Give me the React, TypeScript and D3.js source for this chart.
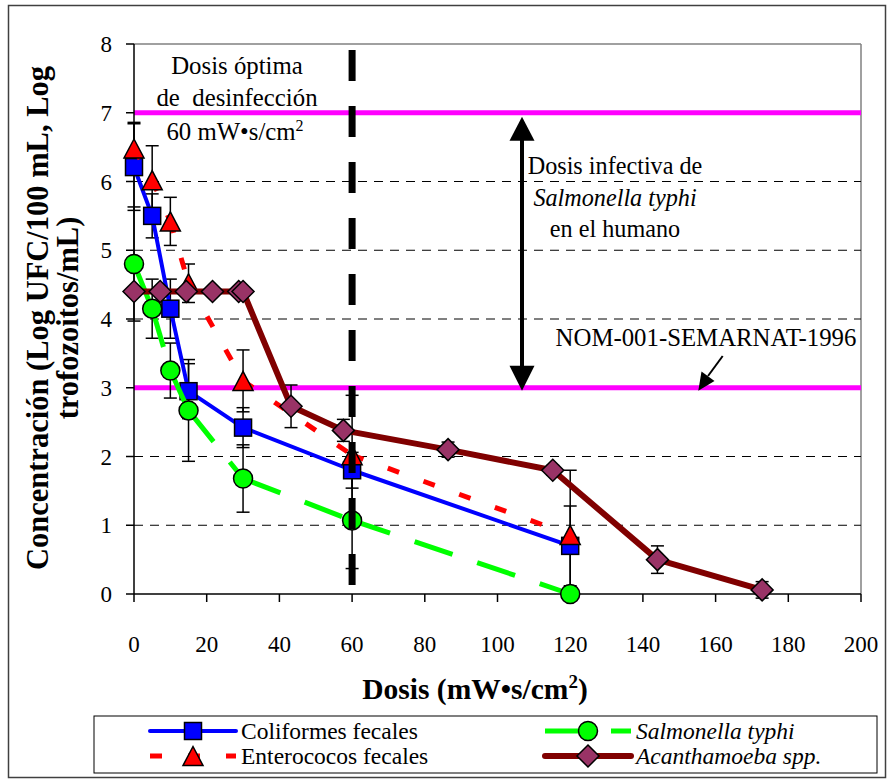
import React from 'react';
import * as d3 from 'd3';

const xTicks = [0, 20, 40, 60, 80, 100, 120, 140, 160, 180, 200];
const yTicks = [0, 1, 2, 3, 4, 5, 6, 7, 8];
const gridValues = [1, 2, 3, 4, 5, 6, 7];
const limitValues = [7, 3];
const optimalDose = 60;

const coliX = [0, 5, 10, 15, 30, 60, 120];
const coliY = [6.21, 5.5, 4.15, 2.95, 2.42, 1.8, 0.7];
const coliErr = [0.63, 0.32, 0.43, 0.4, 0.29, 0.26, 0.58];

const salmX = [0, 5, 10, 15, 30, 60, 120];
const salmY = [4.8, 4.15, 3.25, 2.67, 1.68, 1.07, 0];
const salmErr = [0.83, 0.43, 0.4, 0.74, 0.49, 0.7, 0];

const enteX = [0, 5, 10, 15, 30, 60, 120];
const enteY = [6.48, 6.02, 5.42, 4.52, 3.1, 2.02, 0.86];
const enteErr = [0.38, 0.5, 0.35, 0.28, 0.45, 0.87, 0.94];

const acanX = [0, 7.2, 14.4, 21.6, 28.8, 30, 43.2, 57.6, 86.4, 115.2, 144, 172.8];
const acanY = [4.4, 4.4, 4.4, 4.4, 4.4, 4.4, 2.73, 2.38, 2.1, 1.8, 0.5, 0.06];
const acanErr = [0.05, 0.05, 0.05, 0.05, 0.05, 0.05, 0.31, 0.16, 0.11, 0.07, 0.2, 0.12];

const FONT = '"Liberation Serif", "Times New Roman", serif';

type Series = {
  name: string;
  italic: boolean;
  xs: number[];
  ys: number[];
  err: number[];
  color: string;
  width: number;
  dash: string | null;
  marker: 'square' | 'circle' | 'triangle' | 'diamond';
  fill: string;
};

const series: Series[] = [
  { name: 'Coliformes fecales', italic: false, xs: coliX, ys: coliY, err: coliErr, color: '#0000FF', width: 4, dash: null, marker: 'square', fill: '#0000FF' },
  { name: 'Salmonella typhi', italic: true, xs: salmX, ys: salmY, err: salmErr, color: '#00FF00', width: 5, dash: '40 26', marker: 'circle', fill: '#00FF00' },
  { name: 'Enterococos fecales', italic: false, xs: enteX, ys: enteY, err: enteErr, color: '#FF0000', width: 5, dash: '12 26', marker: 'triangle', fill: '#FF0000' },
  { name: 'Acanthamoeba spp.', italic: true, xs: acanX, ys: acanY, err: acanErr, color: '#800000', width: 6, dash: null, marker: 'diamond', fill: '#993366' },
];

function Marker({ type, cx, cy, fill }: { type: string; cx: number; cy: number; fill: string }) {
  const st = { fill, stroke: '#000', strokeWidth: 1.5 };
  if (type === 'square') return <rect x={cx - 8.5} y={cy - 8.5} width={17} height={17} {...st} />;
  if (type === 'circle') return <circle cx={cx} cy={cy} r={9.5} {...st} />;
  if (type === 'triangle')
    return <path d={`M${cx},${cy - 9.5}L${cx + 10},${cy + 9.5}L${cx - 10},${cy + 9.5}Z`} {...st} />;
  return <path d={`M${cx},${cy - 11}L${cx + 11},${cy}L${cx},${cy + 11}L${cx - 11},${cy}Z`} {...st} />;
}

export default function App() {
  const x = d3.scaleLinear().domain([0, 200]).range([134, 861]);
  const y = d3.scaleLinear().domain([0, 8]).range([594, 44]);
  const line = d3.line<[number, number]>().x((d) => x(d[0])).y((d) => y(d[1]));

  const segs = (s: Series) => {
    const pts: [number, number][] = s.xs.map((v, i) => [v, s.ys[i]]);
    if (!s.dash) return [line(pts) as string];
    const out: string[] = [];
    for (let i = 0; i < pts.length - 1; i++) out.push(line([pts[i], pts[i + 1]]) as string);
    return out;
  };

  const legendItems = [
    { s: series[0], lx: 150, ly: 731 },
    { s: series[1], lx: 545, ly: 731 },
    { s: series[2], lx: 150, ly: 756 },
    { s: series[3], lx: 545, ly: 756 },
  ];

  const arrowX = 522;
  const yTop = y(7);
  const yBot = y(3);

  return (
    <svg width={888} height={780} style={{ position: 'absolute', left: 0, top: 0, background: '#fff' }} fontFamily={FONT}>
      <rect x={8.5} y={5.5} width={877} height={772} fill="#fff" stroke="#404040" strokeWidth={1.5} />
      {/* plot frame */}
      <line x1={x(0)} x2={x(200)} y1={y(8)} y2={y(8)} stroke="#808080" strokeWidth={1.5} />
      <line x1={x(200)} x2={x(200)} y1={y(8)} y2={y(0)} stroke="#808080" strokeWidth={1.5} />
      {gridValues.map((g) => (
        <line key={g} x1={x(0)} x2={x(200)} y1={y(g)} y2={y(g)} stroke="#000" strokeWidth={1} strokeDasharray="9 7" />
      ))}
      {limitValues.map((g) => (
        <line key={'m' + g} x1={x(0)} x2={x(200)} y1={y(g)} y2={y(g)} stroke="#FF00FF" strokeWidth={5} />
      ))}
      {/* axes */}
      <line x1={x(0)} x2={x(0)} y1={y(0)} y2={y(8)} stroke="#000" strokeWidth={1.5} />
      <line x1={x(0)} x2={x(200)} y1={y(0)} y2={y(0)} stroke="#000" strokeWidth={1.5} />
      {yTicks.map((t) => (
        <g key={'yt' + t}>
          <line x1={x(0) - 8} x2={x(0)} y1={y(t)} y2={y(t)} stroke="#000" strokeWidth={1.5} />
          <text x={112} y={y(t) + 8} textAnchor="end" fontSize={23}>{t}</text>
        </g>
      ))}
      {xTicks.map((t) => (
        <g key={'xt' + t}>
          <line x1={x(t)} x2={x(t)} y1={y(0)} y2={y(0) + 8} stroke="#000" strokeWidth={1.5} />
          <text x={x(t)} y={652} textAnchor="middle" fontSize={23}>{t}</text>
        </g>
      ))}
      {/* error bars */}
      {series.map((s) =>
        s.xs.map((v, i) =>
          s.err[i] > 0 ? (
            <g key={s.name + 'e' + i} stroke="#000" strokeWidth={1.5}>
              <line x1={x(v)} x2={x(v)} y1={y(s.ys[i] + s.err[i])} y2={y(s.ys[i] - s.err[i])} />
              <line x1={x(v) - 6.5} x2={x(v) + 6.5} y1={y(s.ys[i] + s.err[i])} y2={y(s.ys[i] + s.err[i])} />
              <line x1={x(v) - 6.5} x2={x(v) + 6.5} y1={y(s.ys[i] - s.err[i])} y2={y(s.ys[i] - s.err[i])} />
            </g>
          ) : null
        )
      )}
      {/* series */}
      {series.map((s) => (
        <g key={s.name}>
          {segs(s).map((d, k) => (
            <path key={k} d={d} fill="none" stroke={s.color} strokeWidth={s.width} strokeDasharray={s.dash ?? undefined} strokeLinejoin="round" />
          ))}
          {s.xs.map((v, i) => (
            <Marker key={i} type={s.marker} cx={x(v)} cy={y(s.ys[i])} fill={s.fill} />
          ))}
        </g>
      ))}
      {/* optimal dose vertical */}
      <line x1={x(optimalDose)} x2={x(optimalDose)} y1={50} y2={587} stroke="#000" strokeWidth={7} strokeDasharray="31 25" />
      {/* double arrow */}
      <line x1={arrowX} x2={arrowX} y1={yTop + 20} y2={yBot - 20} stroke="#000" strokeWidth={4} />
      <path d={`M${arrowX},${yTop + 4}L${arrowX + 12.5},${yTop + 28}L${arrowX - 12.5},${yTop + 28}Z`} fill="#000" />
      <path d={`M${arrowX},${yBot + 3}L${arrowX + 12.5},${yBot - 22}L${arrowX - 12.5},${yBot - 22}Z`} fill="#000" />
      {/* small arrow */}
      <line x1={722.7} y1={356} x2={708} y2={376} stroke="#000" strokeWidth={2} />
      <path d="M698.3,390.7L701.5,371.5L714.5,381Z" fill="#000" />
      {/* annotations */}
      <g fontSize={24.8} textAnchor="middle">
        <text x={237} y={74}>Dosis óptima</text>
        <text x={237} y={106} style={{ whiteSpace: 'pre' }}>de  desinfección</text>
        <text x={235} y={140}>60 mW•s/cm<tspan dy={-9} fontSize={16}>2</tspan></text>
      </g>
      <g fontSize={24.2} textAnchor="middle">
        <text x={615} y={174}>Dosis infectiva de</text>
        <text x={615} y={206} fontStyle="italic">Salmonella typhi</text>
        <text x={615} y={237}>en el humano</text>
        <text x={706} y={346} fontSize={24.8}>NOM-001-SEMARNAT-1996</text>
      </g>
      {/* axis titles */}
      <g fontWeight="bold" textAnchor="middle">
        <text transform="translate(48,318) rotate(-90)" fontSize={30.5}>Concentración (Log UFC/100 mL, Log</text>
        <text transform="translate(78,318) rotate(-90)" fontSize={30.5}>trofozoitos/mL)</text>
        <text x={475} y={699} fontSize={29.5}>Dosis (mW•s/cm<tspan dy={-11} fontSize={19}>2</tspan><tspan dy={11}>)</tspan></text>
      </g>
      {/* legend */}
      <rect x={94} y={716} width={783} height={57} fill="#fff" stroke="#000" strokeWidth={1} />
      {legendItems.map(({ s, lx, ly }) => (
        <g key={'lg' + s.name}>
          <line x1={lx} x2={lx + 86} y1={ly} y2={ly} stroke={s.color} strokeWidth={s.width} strokeDasharray={s.dash ?? undefined} strokeLinecap={s.dash ? 'butt' : 'round'} />
          <Marker type={s.marker} cx={lx + 43} cy={ly} fill={s.fill} />
          <text x={lx + 91} y={ly + 8} fontSize={23.5} fontStyle={s.italic ? 'italic' : 'normal'}>{s.name}</text>
        </g>
      ))}
    </svg>
  );
}
